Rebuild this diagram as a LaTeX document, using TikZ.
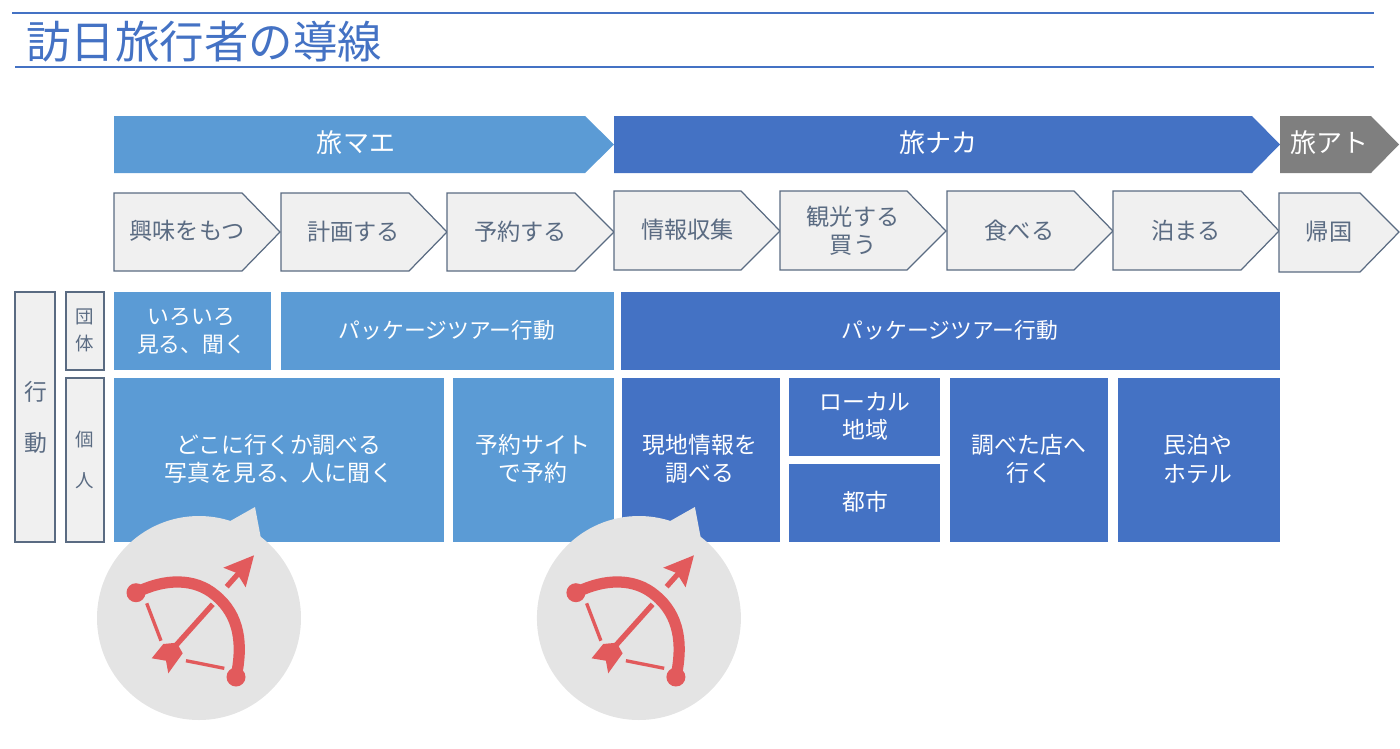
\documentclass[tikz,border=0pt]{standalone}
\usepackage{fontspec}
\newfontfamily\jpfont{Noto Sans CJK JP}
\usepackage{tikz}
\usetikzlibrary{calc,positioning}
\definecolor{maeblue}{HTML}{5B9BD5}
\definecolor{nakablue}{HTML}{4472C4}
\definecolor{atogray}{HTML}{7F7F7F}
\definecolor{slate}{HTML}{5A6B82}
\definecolor{stepgray}{HTML}{F0F0F0}
\definecolor{bowred}{HTML}{E25A5C}
\definecolor{bubblegray}{HTML}{E4E4E4}
\tikzset{
  whitelabel/.style={text=white,align=center,inner sep=0pt,font=\jpfont\fontsize{13}{16}\selectfont},
  tourlabel/.style={text=white,inner sep=0pt,font=\jpfont\fontsize{12.4}{16}\selectfont},
  bandlabel/.style={text=white,inner sep=0pt,font=\jpfont\fontsize{14.8}{18}\selectfont},
  steplabel/.style={text=slate,align=center,inner sep=0pt,font=\jpfont\fontsize{13.2}{16}\selectfont},
  sidelabel/.style={text=slate,inner sep=0pt,font=\jpfont\fontsize{13}{16}\selectfont},
  smalllabel/.style={text=slate,inner sep=0pt,font=\jpfont\fontsize{10.5}{13}\selectfont},
  stepbox/.style={draw=slate,fill=stepgray,line width=0.7pt,line join=miter},
  bowline/.style={draw=bowred,line width=6.4pt,line cap=round},
  bowstring/.style={draw=bowred,line width=1.9pt},
  bowshaft/.style={draw=bowred,line width=3pt},
}
\begin{document}
\begin{tikzpicture}[x=0.02cm,y=-0.02cm]
  \useasboundingbox (0,0) rectangle (1400,748);

  % Title
  \draw[nakablue,line width=1.7pt] (12,13) -- (1374,13);
  \draw[nakablue,line width=1.7pt] (15,67) -- (1374,67);
  \node[text=nakablue,anchor=west,inner sep=0pt,font=\jpfont\fontsize{25.3}{30}\selectfont] (title) at (26,42) {訪日旅行者の導線};

  % Phase bands
  \fill[maeblue] (114,116) -- (585,116) -- (614,144.5) -- (585,173) -- (114,173) -- cycle;
  \node[bandlabel] (mae) at (356,143) {旅マエ};
  \fill[nakablue] (614,116) -- (1252,116) -- (1280,144.5) -- (1252,173) -- (614,173) -- cycle;
  \node[bandlabel] (naka) at (938,143) {旅ナカ};
  \fill[atogray] (1280,116) -- (1371,116) -- (1399,144.5) -- (1371,173) -- (1280,173) -- cycle;
  \node[bandlabel] (ato) at (1329,143) {旅アト};

  % Steps
  \draw[stepbox] (114,193) -- (242,193) -- (280,232) -- (242,271) -- (114,271) -- cycle;
  \node[steplabel] (interest) at (187,231) {興味をもつ};
  \draw[stepbox] (281,193) -- (409,193) -- (447,232) -- (409,271) -- (281,271) -- cycle;
  \node[steplabel] (plan) at (353.5,232) {計画する};
  \draw[stepbox] (447,193) -- (575,193) -- (614,232) -- (575,271) -- (447,271) -- cycle;
  \node[steplabel] (reserve) at (520.5,232) {予約する};
  \draw[stepbox] (614,191) -- (741,191) -- (780,231) -- (741,270) -- (614,270) -- cycle;
  \node[steplabel] (info) at (687.5,230) {情報収集};
  \draw[stepbox] (780,191) -- (907,191) -- (946,231) -- (907,270) -- (780,270) -- cycle;
  \node[steplabel] (sights) at (853,231) {観光する\\買う};
  \draw[stepbox] (947,191) -- (1074,191) -- (1113,231) -- (1074,270) -- (947,270) -- cycle;
  \node[steplabel] (eat) at (1019.5,231) {食べる};
  \draw[stepbox] (1113,191) -- (1241,191) -- (1279,231) -- (1241,270) -- (1113,270) -- cycle;
  \node[steplabel] (stay) at (1186,231) {泊まる};
  \draw[stepbox] (1279,193) -- (1360,193) -- (1399,232) -- (1360,272) -- (1279,272) -- cycle;
  \node[steplabel] (home) at (1329,232) {帰国};

  % Side labels
  \draw[stepbox] (15,292) rectangle (55,542);
  \node[sidelabel] (kou) at (36,392) {行};
  \node[sidelabel] (dou) at (36,443) {動};
  \draw[stepbox] (66,292) rectangle (104,370);
  \node[smalllabel] (dan) at (85,317) {団};
  \node[smalllabel] (tai) at (85,343) {体};
  \draw[stepbox] (66,378) rectangle (104,542);
  \node[smalllabel] (ko) at (85,440) {個};
  \node[smalllabel] (jin) at (85,481) {人};

  % Group row
  \fill[maeblue] (114,292) rectangle (271,370);
  \node[tourlabel,align=center] (various) at (191.5,331) {いろいろ\\見る、聞く};
  \fill[maeblue] (281,292) rectangle (614,370);
  \node[tourlabel] (tourmae) at (447,330) {パッケージツアー行動};
  \fill[nakablue] (621,292) rectangle (1280,370);
  \node[tourlabel] (tournaka) at (950,330) {パッケージツアー行動};

  % Individual row
  \fill[maeblue] (114,378) rectangle (444,542);
  \node[whitelabel] (where) at (279,459) {どこに行くか調べる\\写真を見る、人に聞く};
  \fill[maeblue] (453,378) rectangle (614,542);
  \node[whitelabel] (site) at (533,459) {予約サイト\\で予約};
  \fill[nakablue] (622,378) rectangle (780,542);
  \node[whitelabel] (local) at (700,459) {現地情報を\\調べる};
  \fill[nakablue] (789,378) rectangle (940,456);
  \node[whitelabel] (area) at (865,416) {ローカル\\地域};
  \fill[nakablue] (789,464) rectangle (940,542);
  \node[whitelabel] (city) at (865,502) {都市};
  \fill[nakablue] (950,378) rectangle (1108,542);
  \node[whitelabel] (shop) at (1029,459) {調べた店へ\\行く};
  \fill[nakablue] (1118,378) rectangle (1280,542);
  \node[whitelabel] (inn) at (1198,459) {民泊や\\ホテル};

  % First bubble
  \fill[bubblegray] (199,618) circle (102);
  \fill[bubblegray] (225,524) -- (255,507) -- (262,544) -- cycle;
  \draw[bowline] (136,592.7) .. controls (165,578) and (195,578) .. (215,595) .. controls (240,615) and (243,645) .. (236,677);
  \fill[bowred] (136,592.7) circle (9.5);
  \fill[bowred] (236,677) circle (9.5);
  \draw[bowstring] (146.7,603.3) -- (161,640.7);
  \draw[bowstring] (186,660.7) -- (224.3,668.3);
  \draw[bowshaft] (170,652) -- (212.7,604.3);
  \draw[bowshaft] (226.7,586.7) -- (240,571.7);
  \fill[bowred] (254,555.3) -- (223.3,567.7) -- (236.7,573) -- (245.7,587.3) -- cycle;
  \fill[bowred] (151.7,658.3) -- (163.3,644) -- (176.7,642.7) -- (182.7,653.3) -- (168.3,673.3) -- (166,660.7) -- cycle;

  % Second bubble
  \begin{scope}[xshift=8.8cm]
    \fill[bubblegray] (199,618) circle (102);
    \fill[bubblegray] (225,524) -- (255,507) -- (262,544) -- cycle;
    \draw[bowline] (136,592.7) .. controls (165,578) and (195,578) .. (215,595) .. controls (240,615) and (243,645) .. (236,677);
    \fill[bowred] (136,592.7) circle (9.5);
    \fill[bowred] (236,677) circle (9.5);
    \draw[bowstring] (146.7,603.3) -- (161,640.7);
    \draw[bowstring] (186,660.7) -- (224.3,668.3);
    \draw[bowshaft] (170,652) -- (212.7,604.3);
    \draw[bowshaft] (226.7,586.7) -- (240,571.7);
    \fill[bowred] (254,555.3) -- (223.3,567.7) -- (236.7,573) -- (245.7,587.3) -- cycle;
    \fill[bowred] (151.7,658.3) -- (163.3,644) -- (176.7,642.7) -- (182.7,653.3) -- (168.3,673.3) -- (166,660.7) -- cycle;
  \end{scope}
\end{tikzpicture}
\end{document}
